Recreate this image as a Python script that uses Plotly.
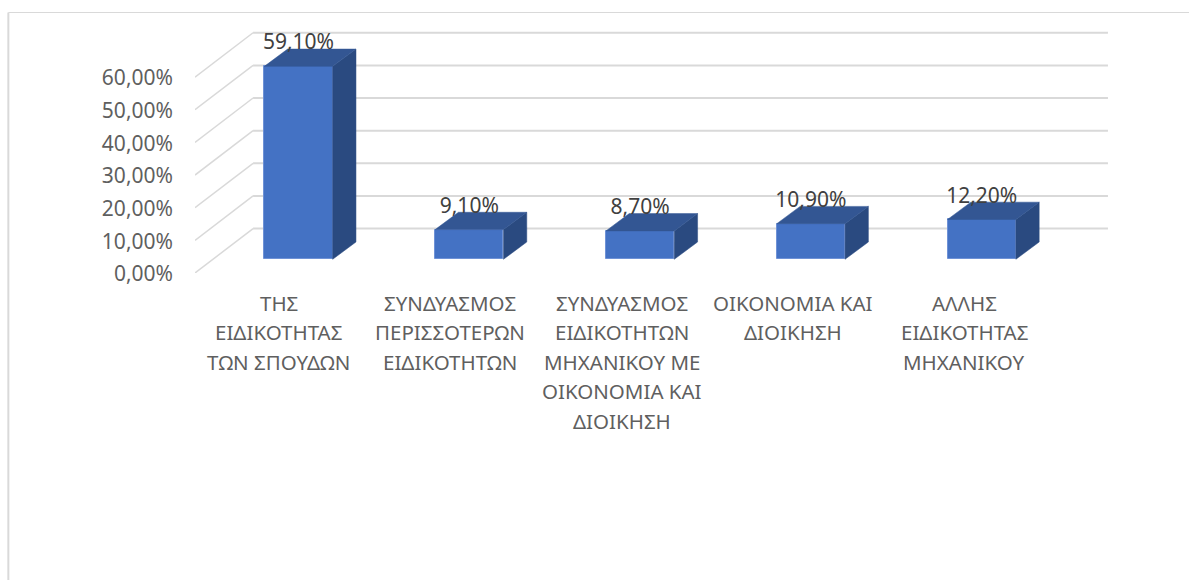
import plotly.graph_objects as go

category_lines = [
    ["ΤΗΣ", "ΕΙΔΙΚΟΤΗΤΑΣ", "ΤΩΝ ΣΠΟΥΔΩΝ"],
    ["ΣΥΝΔΥΑΣΜΟΣ", "ΠΕΡΙΣΣΟΤΕΡΩΝ", "ΕΙΔΙΚΟΤΗΤΩΝ"],
    ["ΣΥΝΔΥΑΣΜΟΣ", "ΕΙΔΙΚΟΤΗΤΩΝ", "ΜΗΧΑΝΙΚΟΥ ΜΕ", "ΟΙΚΟΝΟΜΙΑ ΚΑΙ", "ΔΙΟΙΚΗΣΗ"],
    ["ΟΙΚΟΝΟΜΙΑ ΚΑΙ", "ΔΙΟΙΚΗΣΗ"],
    ["ΑΛΛΗΣ", "ΕΙΔΙΚΟΤΗΤΑΣ", "ΜΗΧΑΝΙΚΟΥ"],
]
values = [59.1, 9.1, 8.7, 10.9, 12.2]
value_labels = ["59,10%", "9,10%", "8,70%", "10,90%", "12,20%"]
tick_values = [0, 10, 20, 30, 40, 50, 60]
tick_labels = ["0,00%", "10,00%", "20,00%", "30,00%", "40,00%", "50,00%", "60,00%"]

# Pseudo-3D projection, in axis units
XMIN, XMAX = -0.486, 4.871
YMAX = 77.5
WALL_DX, WALL_DY = 0.34, 13.6
FLOOR_DX, FLOOR_DY = 0.12, 4.2
BAR_W = 0.40
BAR_DX, BAR_DY = 0.1364, 5.3
LABEL_LIFT = 6.8
LABEL_STEP = 1.003
LABEL_OFFSET = 0.005

GRID = "#d9d9d9"
FRONT, SIDE, TOP = "#4472c4", "#2a4a80", "#335693"
EDGE = "#6f92d6"

xs = [i + FLOOR_DX for i in range(len(values))]
fig = go.Figure()

fig.add_trace(go.Bar(
    x=xs, y=values, base=[FLOOR_DY] * len(values), width=BAR_W,
    marker=dict(color=FRONT, line=dict(color=EDGE, width=1)),
    hoverinfo="skip", showlegend=False,
))

for x, v in zip(xs, values):
    l, r = x - BAR_W / 2, x + BAR_W / 2
    b, t = FLOOR_DY, FLOOR_DY + v
    fig.add_trace(go.Scatter(
        x=[r, r + BAR_DX, r + BAR_DX, r, r],
        y=[b, b + BAR_DY, t + BAR_DY, t, b],
        mode="lines", fill="toself", fillcolor=SIDE,
        line=dict(color=SIDE, width=0.5), hoverinfo="skip", showlegend=False,
    ))
    fig.add_trace(go.Scatter(
        x=[l, r, r + BAR_DX, l + BAR_DX, l],
        y=[t, t, t + BAR_DY, t + BAR_DY, t],
        mode="lines", fill="toself", fillcolor=TOP,
        line=dict(color=TOP, width=0.5), hoverinfo="skip", showlegend=False,
    ))

fig.add_trace(go.Scatter(
    x=xs, y=[FLOOR_DY + v + LABEL_LIFT for v in values],
    mode="text", text=value_labels, textposition="middle center",
    textfont=dict(family="Noto Sans", size=21, color="#404040"),
    hoverinfo="skip", showlegend=False, cliponaxis=False,
))

shapes = []
for v in tick_values:
    shapes.append(dict(type="line", xref="x", yref="y", layer="below",
                       x0=XMIN, y0=v, x1=XMIN + WALL_DX, y1=v + WALL_DY,
                       line=dict(color=GRID, width=1.5)))
    shapes.append(dict(type="line", xref="x", yref="y", layer="below",
                       x0=XMIN + WALL_DX, y0=v + WALL_DY, x1=XMAX - 0.012, y1=v + WALL_DY,
                       line=dict(color=GRID, width=2)))
# Outer chart frame (left and top only are visible in the crop)
shapes.append(dict(type="line", xref="paper", yref="paper",
                   x0=-0.204, x1=-0.204, y0=-1.3, y1=1.0297,
                   line=dict(color=GRID, width=2)))
shapes.append(dict(type="line", xref="paper", yref="paper",
                   x0=-0.204, x1=1.1, y0=1.0297, y1=1.0297,
                   line=dict(color=GRID, width=1)))

annotations = []
for i, lines in enumerate(category_lines):
    for k, line in enumerate(lines):
        annotations.append(dict(
            x=i * LABEL_STEP + LABEL_OFFSET, y=0, xref="x", yref="y", text=line, showarrow=False,
            xanchor="center", yanchor="middle", yshift=-(29.8 + 29.5 * k),
            font=dict(family="Noto Sans", size=20.5, color="#5f5f5f"),
        ))

fig.update_layout(
    width=1189, height=580,
    margin=dict(l=195, r=79, t=20, b=307.3, pad=0, autoexpand=False),
    paper_bgcolor="white", plot_bgcolor="white",
    bargap=0, showlegend=False,
    shapes=shapes, annotations=annotations,
    xaxis=dict(range=[XMIN, XMAX], showgrid=False, zeroline=False,
               showticklabels=False, ticks="", showline=False),
    yaxis=dict(range=[0, YMAX], showgrid=False, zeroline=False, showline=False,
               tickmode="array", tickvals=tick_values, ticktext=tick_labels,
               ticks="", ticklabelstandoff=21, ticklabelshift=1,
               tickfont=dict(family="Noto Sans", size=21, color="#5f5f5f")),
)

fig.write_html("out.html", config={"displayModeBar": False},
               post_script="document.body.style.margin='0';document.body.style.overflow='hidden';")
